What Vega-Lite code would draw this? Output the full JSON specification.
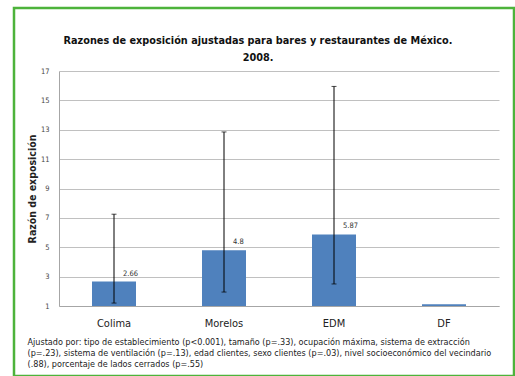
{
  "$schema": "https://vega.github.io/schema/vega-lite/v6.json",
  "width": 500,
  "height": 368,
  "autosize": {"type": "none"},
  "padding": {"left": 14, "top": 8, "right": 1, "bottom": 0},
  "background": "white",
  "config": {
    "view": {"stroke": "#4db33b", "strokeWidth": 2.5, "fill": "white"},
    "font": "Liberation Sans Narrow, DejaVu Sans Condensed, Roboto"
  },
  "title": {
    "text": ["Razones de exposición ajustadas para bares y restaurantes de México.", "2008."],
    "fontSize": 10.8,
    "fontWeight": "bold",
    "color": "#111111",
    "anchor": "middle",
    "baseline": "top",
    "lineHeight": 17,
    "dx": -6,
    "offset": -55,
    "font": "Liberation Sans Narrow, DejaVu Sans Condensed, Roboto"
  },
  "data": {
    "values": [
      {"estado": "Colima", "razon": 2.66, "lo": 1.2, "hi": 7.25, "label": "2.66"},
      {"estado": "Morelos", "razon": 4.8, "lo": 1.95, "hi": 12.85, "label": "4.8"},
      {"estado": "EDM", "razon": 5.87, "lo": 2.5, "hi": 15.95, "label": "5.87"},
      {"estado": "DF", "razon": 1.12, "lo": null, "hi": null, "label": null}
    ]
  },
  "encoding": {
    "x": {
      "field": "estado",
      "type": "nominal",
      "sort": null,
      "scale": {"range": [45, 485], "paddingInner": 0.6, "paddingOuter": 0.3},
      "axis": {
        "orient": "bottom",
        "offset": -70,
        "labelAngle": 0,
        "labelFontSize": 11,
        "labelColor": "#222222",
        "labelPadding": 11,
        "ticks": false,
        "domainColor": "#a6a6a6",
        "title": [
          "Ajustado por: tipo de establecimiento (p<0.001), tamaño (p=.33), ocupación máxima, sistema de extracción",
          "(p=.23), sistema de ventilación (p=.13),  edad clientes, sexo clientes (p=.03),  nivel socioeconómico del vecindario",
          "(.88),  porcentaje de lados cerrados  (p=.55)"
        ],
        "titleFontSize": 9,
        "titleFontWeight": "normal",
        "titleColor": "#222222",
        "titleAlign": "left",
        "titleAnchor": "start",
        "titleBaseline": "top",
        "titleLineHeight": 11,
        "titleX": 13,
        "titleY": 31
      }
    }
  },
  "layer": [
    {
      "mark": {"type": "bar", "color": "#4f81bd"},
      "encoding": {
        "y": {
          "field": "razon",
          "type": "quantitative",
          "scale": {"domain": [1, 17], "range": [298, 63], "zero": false, "nice": false},
          "axis": {
            "orient": "left",
            "offset": -45,
            "values": [1, 3, 5, 7, 9, 11, 13, 15, 17],
            "labelFontSize": 7.5,
            "labelColor": "#444444",
            "labelPadding": 10,
            "ticks": false,
            "domainColor": "#a6a6a6",
            "gridColor": "#c0c0c0",
            "title": "Razón de exposición",
            "titleFontSize": 10.5,
            "titleFontWeight": "bold",
            "titleColor": "#222222",
            "titlePadding": 3
          }
        },
        "y2": {"datum": 1}
      }
    },
    {
      "transform": [{"filter": "isValid(datum.lo)"}],
      "mark": {"type": "rule", "color": "#000000", "strokeWidth": 1},
      "encoding": {
        "y": {"field": "lo", "type": "quantitative"},
        "y2": {"field": "hi"}
      }
    },
    {
      "transform": [{"filter": "isValid(datum.lo)"}],
      "mark": {"type": "tick", "color": "#000000", "thickness": 1, "size": 5, "orient": "horizontal"},
      "encoding": {"y": {"field": "lo", "type": "quantitative"}}
    },
    {
      "transform": [{"filter": "isValid(datum.hi)"}],
      "mark": {"type": "tick", "color": "#000000", "thickness": 1, "size": 5, "orient": "horizontal"},
      "encoding": {"y": {"field": "hi", "type": "quantitative"}}
    },
    {
      "transform": [{"filter": "isValid(datum.label)"}],
      "mark": {"type": "text", "align": "left", "baseline": "bottom", "dx": 9, "dy": -4, "fontSize": 7.5, "color": "#333333"},
      "encoding": {
        "y": {"field": "razon", "type": "quantitative"},
        "text": {"field": "label"}
      }
    }
  ]
}
